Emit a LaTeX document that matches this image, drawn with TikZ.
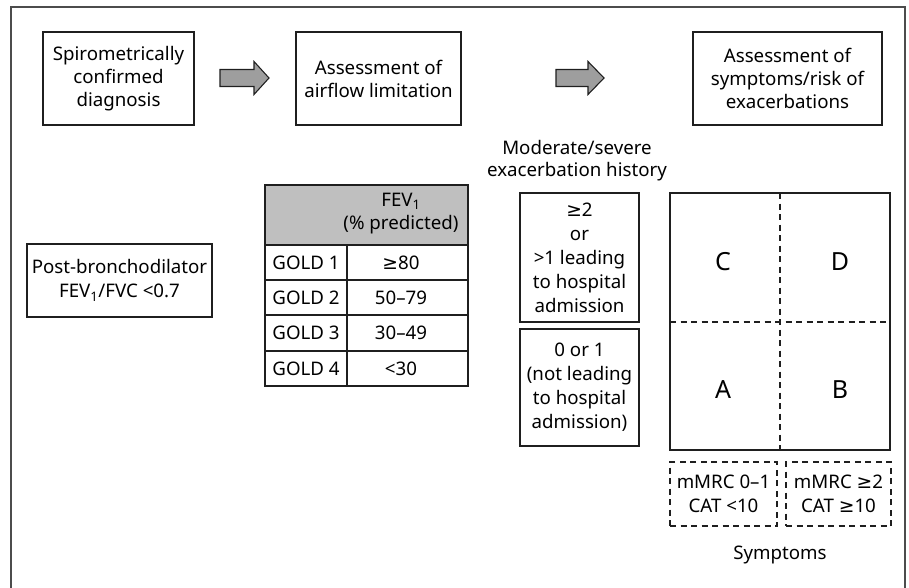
\documentclass[tikz,border=0pt]{standalone}
\usepackage{fontspec}
\setmainfont{Noto Sans}
\newfontfamily\symfont{DejaVu Sans}
\newcommand{\gesym}{{\symfont ≥}}
\begin{document}
\begin{tikzpicture}[x=1pt,y=-1pt,
  ln/.style={draw=black!88, line width=1.1pt},
  box/.style={ln, align=center, inner sep=0pt, font=\fontsize{18.7}{23}\selectfont},
  txt/.style={align=center, inner sep=0pt, font=\fontsize{18.7}{23}\selectfont},
  big/.style={inner sep=0pt, font=\fontsize{25}{28}\selectfont},
  dbox/.style={box, dash pattern=on 6pt off 4.5pt},
  blockarrow/.style={draw=black!88, line width=1.1pt, fill=black!38}]
\useasboundingbox (0,0) rectangle (909,588);
% frame
\draw[draw=black!70, line width=1.6pt] (11,588) -- (11,7) -- (905,7) -- (905,588);
% top row
\node[box, minimum width=151pt, minimum height=93pt] (b1) at (118.5,78.5) {Spirometrically\\confirmed\\diagnosis};
\node[box, minimum width=165pt, minimum height=93pt] (b2) at (378.5,78.5) {Assessment of\\airflow limitation};
\node[box, minimum width=189pt, minimum height=93pt] (b3) at (787.5,78.5) {Assessment of\\symptoms/risk of\\exacerbations};
% block arrows
\coordinate (a1) at (220,78.5);
\coordinate (a2) at (556,78.5);
\draw[blockarrow] (a1) ++(0,-9) -- ++(34,0) -- ++(0,-8) -- ++(15,16.5) -- ++(-15,16.5) -- ++(0,-8) -- ++(-34,0) -- cycle;
\draw[blockarrow] (a2) ++(0,-9) -- ++(32,0) -- ++(0,-8) -- ++(16,16.5) -- ++(-16,16.5) -- ++(0,-8) -- ++(-32,0) -- cycle;
% post-bronchodilator
\node[box, minimum width=185pt, minimum height=73pt, font=\fontsize{18.7}{24}\selectfont] (post) at (119.5,280.5) {Post-bronchodilator\\FEV\textsubscript{1}/FVC <0.7};
% table
\fill[black!25] (265,185) rectangle (468,245);
\draw[ln] (265,185) rectangle (468,386);
\draw[ln] (265,245) -- (468,245);
\draw[ln] (265,280) -- (468,280);
\draw[ln] (265,315) -- (468,315);
\draw[ln] (265,351) -- (468,351);
\draw[ln] (347,245) -- (347,386);
\node[txt] (hdr) at (401,213.5) {FEV\textsubscript{1}\\(\% predicted)};
\node[txt] (g1) at (306,262.5) {GOLD 1};
\node[txt] (g2) at (306,297.5) {GOLD 2};
\node[txt] (g3) at (306,333) {GOLD 3};
\node[txt] (g4) at (306,368.5) {GOLD 4};
\node[txt] (v1) at (401,262.5) {\gesym80};
\node[txt] (v2) at (401,297.5) {50–79};
\node[txt] (v3) at (401,333) {30–49};
\node[txt] (v4) at (401,368.5) {<30};
% exacerbation history
\node[txt, font=\fontsize{18.7}{22}\selectfont] (exh) at (577,160.5) {Moderate/severe\\exacerbation history};
\node[box, minimum width=119pt, minimum height=129pt, font=\fontsize{18.7}{24}\selectfont] (hi) at (579.5,257.5) {\gesym2\\or\\>1 leading\\to hospital\\admission};
\node[box, minimum width=119pt, minimum height=117pt, font=\fontsize{18.7}{24}\selectfont] (lo) at (579.5,387.5) {0 or 1\\(not leading\\to hospital\\admission)};
% grid
\draw[ln] (670,193) rectangle (890,450);
\draw[ln, dash pattern=on 6pt off 4.5pt] (780,193) -- (780,450);
\draw[ln, dash pattern=on 6pt off 4.5pt] (670,322) -- (890,322);
\node[big] (C) at (723,262) {C};
\node[big] (D) at (840,262) {D};
\node[big] (A) at (723,390) {A};
\node[big] (B) at (840,390) {B};
% symptoms
\node[dbox, minimum width=107pt, minimum height=64pt, font=\fontsize{18.7}{24}\selectfont] (s1) at (723.5,494) {mMRC 0–1\\CAT <10};
\node[dbox, minimum width=105pt, minimum height=64pt, font=\fontsize{18.7}{24}\selectfont] (s2) at (838.5,494) {mMRC \gesym2\\CAT \gesym10};
\node[txt] (sym) at (780,555) {Symptoms};
\end{tikzpicture}
\end{document}
